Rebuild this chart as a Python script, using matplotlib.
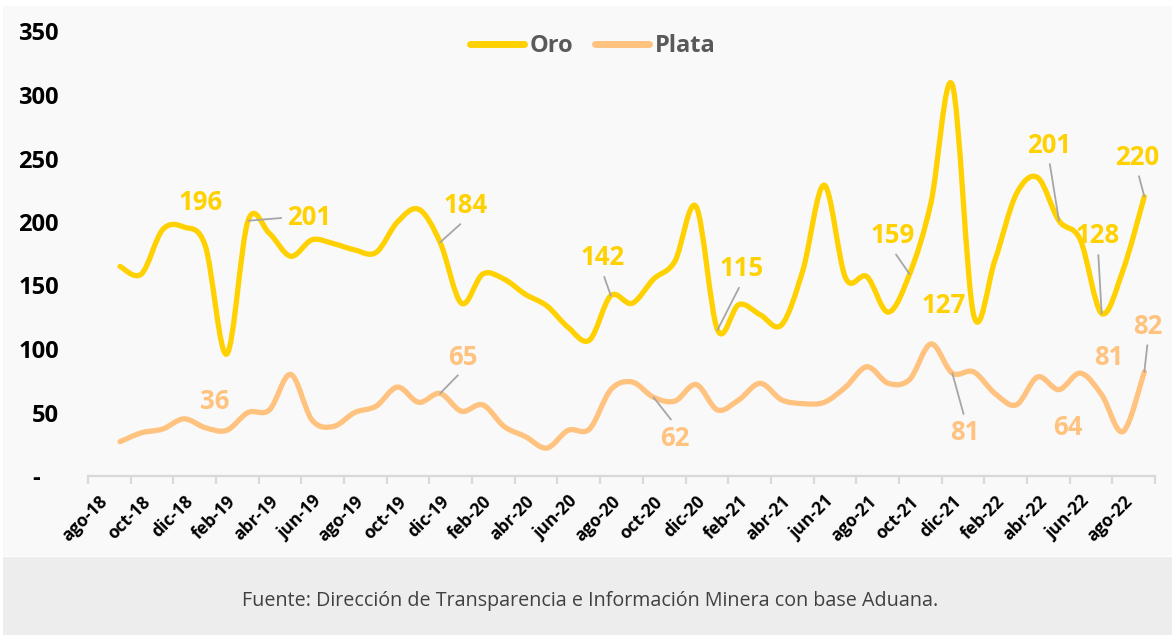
import matplotlib
matplotlib.use("Agg")
import matplotlib.pyplot as plt
from matplotlib.path import Path
from matplotlib.patches import PathPatch, Rectangle
from matplotlib.lines import Line2D
import numpy as np

plt.rcParams['font.family'] = ['Open Sans', 'DejaVu Sans']

# months ago-18 .. sep-22 (first category has no data)
months = ['ago', 'sep', 'oct', 'nov', 'dic', 'ene', 'feb', 'mar', 'abr', 'may', 'jun', 'jul']
categories = []
for k in range(50):
    m = months[k % 12]
    yr = 18 + (k + 7) // 12
    categories.append('%s-%d' % (m, yr))

oro = [np.nan,
       165, 159, 194, 196,
       181, 96, 201, 191, 173, 186, 183, 178, 176, 200, 210, 184,
       136, 159, 155, 143, 134, 117, 107, 142, 136, 155, 169, 212,
       115, 135, 127, 119, 162, 229, 156, 157, 129, 159, 215, 308,
       127, 170, 222, 235, 201, 186, 128, 162, 220]

plata = [np.nan,
         27, 34, 37, 45,
         38, 36, 50, 52, 80, 44, 39, 50, 55, 70, 58, 65,
         51, 56, 39, 31, 22, 36, 37, 68, 74, 62, 59, 72,
         52, 60, 73, 60, 57, 58, 70, 86, 73, 76, 104, 81,
         82, 65, 56, 78, 68, 81, 64, 35, 82]

# labelled points: (index, label x, label y, leader position on text box or None)
oro_labels = [(4, 4.77, 215, None), (7, 9.85, 203.5, (0.0, 0.5)), (16, 17.19, 212.6, (0.5, 0)),
              (24, 23.6, 171.7, (0.5, 0)), (29, 30.13, 163, (0.5, 0)), (38, 37.2, 189, (0.5, 0)),
              (41, 39.6, 134.6, None), (45, 44.53, 260.6, (0.5, 0)), (47, 46.83, 189, (0.5, 0)),
              (49, 48.68, 251, (0.5, 0))]
plata_labels = [(6, 5.45, 58.3, None), (16, 17.05, 93.7, (0.5, 0)), (26, 27.0, 29.9, (0.5, 1)),
                (40, 40.6, 33.9, (0.5, 1)), (46, 47.35, 93.3, None), (47, 45.42, 37.8, None),
                (49, 49.17, 118, (0.5, 0))]

GOLD = '#FFD100'
SILVER = '#FFC27F'
GRAY = '#A6A6A6'


def smooth_path(values):
    # excel-like smoothed line: cubic bezier through the points
    pts = [(i, v) for i, v in enumerate(values) if not np.isnan(v)]
    verts = [pts[0]]
    codes = [Path.MOVETO]
    n = len(pts)
    for i in range(n - 1):
        p0 = np.array(pts[max(i - 1, 0)], float)
        p1 = np.array(pts[i], float)
        p2 = np.array(pts[i + 1], float)
        p3 = np.array(pts[min(i + 2, n - 1)], float)
        c1 = p1 + (p2 - p0) / 6.0
        c2 = p2 - (p3 - p1) / 6.0
        verts += [tuple(c1), tuple(c2), tuple(p2)]
        codes += [Path.CURVE4] * 3
    return Path(verts, codes)


fig = plt.figure(figsize=(11.73, 6.35), dpi=100)
fig.patch.set_facecolor('white')
fig.patches.append(Rectangle((3 / 1173, 1 - 556 / 635), 1169 / 1173, 550 / 635,
                             transform=fig.transFigure, facecolor='#F9F9F9', edgecolor='none', zorder=-10))
fig.patches.append(Rectangle((3 / 1173, 0), 1169 / 1173, 78 / 635,
                             transform=fig.transFigure, facecolor='#EDEDED', edgecolor='none', zorder=-10))

ax = fig.add_axes([88 / 1173, 1 - 476 / 635, 1067 / 1173, 444.5 / 635])
ax.set_facecolor('none')
ax.set_xlim(-0.5, 49.5)
ax.set_ylim(0, 350)

for vals, col in [(oro, GOLD), (plata, SILVER)]:
    patch = PathPatch(smooth_path(vals), facecolor='none', edgecolor=col, lw=3.8,
                      capstyle='round', joinstyle='round', zorder=3)
    ax.add_patch(patch)

for labels, vals, col in [(oro_labels, oro, GOLD), (plata_labels, plata, SILVER)]:
    for idx, lx, ly, rel in labels:
        props = None
        if rel is not None:
            props = dict(arrowstyle='-', color=GRAY, lw=1.3, shrinkA=2, shrinkB=0, relpos=rel)
        ax.annotate('%d' % vals[idx], xy=(idx, vals[idx]), xytext=(lx, ly), textcoords='data',
                    ha='center', va='center', fontsize=18.5, fontweight='bold', color=col,
                    arrowprops=props, zorder=4)

# axes styling
for s in ['top', 'right', 'left']:
    ax.spines[s].set_visible(False)
ax.spines['bottom'].set_color('#D9D9D9')
ax.spines['bottom'].set_linewidth(1.6)

yt = list(range(0, 351, 50))
ax.set_yticks(yt)
ax.set_yticklabels(['-   '] + [str(v) for v in yt[1:]], fontsize=17, fontweight='bold', color='black')
ax.tick_params(axis='y', length=0, pad=21)

ax.set_xticks(range(0, 50, 2))
ax.set_xticklabels(categories[0::2], rotation=45, ha='right', va='top', rotation_mode='anchor',
                   fontsize=12.5, fontweight='bold', color='black')
ax.set_xticks(np.arange(-0.5, 50, 2), minor=True)
ax.tick_params(axis='x', which='major', length=0, pad=12)
ax.tick_params(axis='x', which='minor', length=6, width=1.6, color='#D9D9D9')

handles = [Line2D([], [], color=GOLD, lw=5, solid_capstyle='round'),
           Line2D([], [], color=SILVER, lw=5, solid_capstyle='round')]
leg = ax.legend(handles, ['Oro', 'Plata'], loc='center', bbox_to_anchor=(0.473, 0.967), ncol=2,
                frameon=False, handlelength=2.3, handletextpad=0.25, columnspacing=0.9,
                prop={'size': 17, 'weight': 'bold'})
for t in leg.get_texts():
    t.set_color('#595959')

fig.text(590 / 1173, 1 - 601 / 635,
         'Fuente: Dirección de Transparencia e Información Minera con base Aduana.',
         ha='center', va='center', fontsize=14.2, color='#404040')

fig.savefig('out.png', dpi=100)
